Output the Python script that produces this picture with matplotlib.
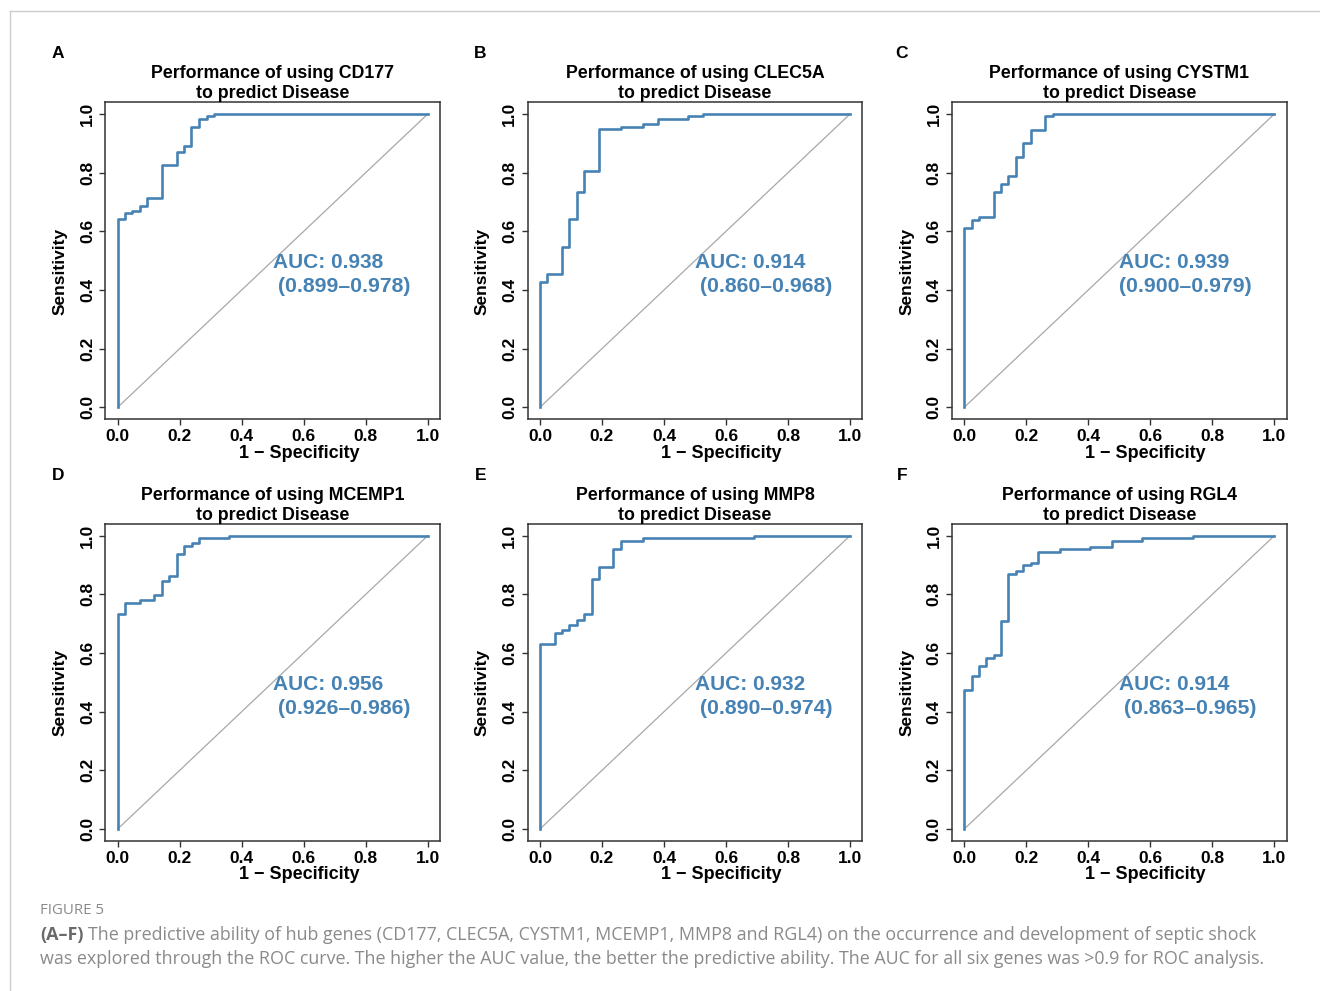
import matplotlib
matplotlib.use("Agg")
import matplotlib.pyplot as plt
from matplotlib.lines import Line2D

# ROC step points (1 - specificity, sensitivity)
genes = ["CD177", "CLEC5A", "CYSTM1", "MCEMP1", "MMP8", "RGL4"]
panel_tags = ["A", "B", "C", "D", "E", "F"]

fpr_cd177 = [0, 0, 0.024, 0.047, 0.071, 0.096, 0.143, 0.192, 0.214, 0.238, 0.261, 0.287, 0.311, 1.0]
tpr_cd177 = [0, 0.641, 0.661, 0.668, 0.688, 0.715, 0.826, 0.872, 0.891, 0.955, 0.983, 0.992, 1.0, 1.0]

fpr_clec5a = [0, 0, 0.022, 0.071, 0.095, 0.118, 0.142, 0.190, 0.261, 0.333, 0.381, 0.476, 0.525, 1.0]
tpr_clec5a = [0, 0.426, 0.455, 0.548, 0.641, 0.733, 0.806, 0.948, 0.956, 0.965, 0.983, 0.992, 1.0, 1.0]

fpr_cystm1 = [0, 0, 0.024, 0.047, 0.096, 0.118, 0.142, 0.166, 0.190, 0.215, 0.260, 0.285, 1.0]
tpr_cystm1 = [0, 0.613, 0.640, 0.650, 0.733, 0.761, 0.790, 0.853, 0.900, 0.947, 0.992, 1.0, 1.0]

fpr_mcemp1 = [0, 0, 0.024, 0.072, 0.118, 0.144, 0.167, 0.192, 0.214, 0.239, 0.262, 0.359, 1.0]
tpr_mcemp1 = [0, 0.733, 0.770, 0.780, 0.798, 0.844, 0.863, 0.936, 0.965, 0.975, 0.993, 1.0, 1.0]

fpr_mmp8 = [0, 0, 0.048, 0.072, 0.095, 0.118, 0.142, 0.167, 0.190, 0.237, 0.261, 0.333, 0.667, 0.691, 1.0]
tpr_mmp8 = [0, 0.631, 0.668, 0.677, 0.695, 0.713, 0.733, 0.854, 0.892, 0.955, 0.983, 0.991, 0.991, 1.0, 1.0]

fpr_rgl4 = [0, 0, 0.024, 0.047, 0.071, 0.096, 0.118, 0.142, 0.167, 0.190, 0.215, 0.239, 0.309, 0.405, 0.475, 0.572, 0.739, 1.0]
tpr_rgl4 = [0, 0.474, 0.520, 0.557, 0.584, 0.594, 0.708, 0.870, 0.881, 0.899, 0.908, 0.945, 0.955, 0.963, 0.982, 0.991, 1.0, 1.0]

fprs = [fpr_cd177, fpr_clec5a, fpr_cystm1, fpr_mcemp1, fpr_mmp8, fpr_rgl4]
tprs = [tpr_cd177, tpr_clec5a, tpr_cystm1, tpr_mcemp1, tpr_mmp8, tpr_rgl4]

auc = ["0.938", "0.914", "0.939", "0.956", "0.932", "0.914"]
ci = ["0.899–0.978", "0.860–0.968", "0.900–0.979", "0.926–0.986", "0.890–0.974", "0.863–0.965"]
ci_shift = [0.016, 0.016, 0.0, 0.016, 0.016, 0.016]

ticks = [0.0, 0.2, 0.4, 0.6, 0.8, 1.0]
tick_labels = ["0.0", "0.2", "0.4", "0.6", "0.8", "1.0"]

W, H = 1320, 991
fig = plt.figure(figsize=(W / 100, H / 100), dpi=100)
plt.rcParams["font.family"] = ["Liberation Sans", "DejaVu Sans"]

blue = "#4682B4"
lefts = [105.3, 527.6, 951.9]
tops = [102.3, 524.0]
tag_off = [47, 47, 50]
aw, ah = 334.8, 316.7

for i, g in enumerate(genes):
    r, c = divmod(i, 3)
    x0, y0 = lefts[c], tops[r]
    ax = fig.add_axes([x0 / W, 1 - (y0 + ah) / H, aw / W, ah / H])
    ax.plot([0, 1], [0, 1], color="#a8a8a8", lw=0.9)
    ax.plot(fprs[i], tprs[i], drawstyle="steps-post", color=blue, lw=1.9)
    ax.set_xlim(-0.04, 1.04)
    ax.set_ylim(-0.04, 1.04)
    ax.set_xticks(ticks)
    ax.set_yticks(ticks)
    ax.set_xticklabels(tick_labels, fontsize=12.5, fontweight="bold")
    ax.set_yticklabels(tick_labels, fontsize=12.5, fontweight="bold", rotation=90, va="center")
    ax.tick_params(length=4.5, width=1.0, color="#333333", pad=3)
    for s in ax.spines.values():
        s.set_color("#333333")
        s.set_linewidth(1.1)
    ax.set_xlabel("1 − Specificity", fontsize=13, fontweight="bold")
    ax.xaxis.set_label_coords(0.579, -(453 - 419) / ah)
    ax.xaxis.label.set_va("center")
    ax.set_ylabel("Sensitivity", fontsize=12.5, fontweight="bold")
    ax.yaxis.set_label_coords(-45.3 / aw, 0.467)
    ax.yaxis.label.set_va("center")
    ax.set_title("Performance of using " + g + "\nto predict Disease",
                 fontsize=12.8, fontweight="bold", linespacing=1.25, pad=1)
    ax.text(0.5, 0.494, "AUC: " + auc[i], color=blue, fontsize=15,
            fontweight="bold", ha="left", va="center")
    ax.text(0.5 + ci_shift[i], 0.411, "(" + ci[i] + ")", color=blue, fontsize=15.3,
            fontweight="bold", ha="left", va="center")
    fig.text((x0 - tag_off[c]) / W, 1 - (y0 - 49) / H, panel_tags[i], fontsize=12.5,
             fontweight="bold", ha="center", va="center")

# page frame lines
fig.add_artist(Line2D([10 / W, 1], [1 - 11 / H, 1 - 11 / H], color="#cccccc", lw=1))
fig.add_artist(Line2D([10 / W, 10 / W], [0, 1 - 11 / H], color="#cccccc", lw=1))

# caption
cap_font = ["Open Sans", "DejaVu Sans"]
fig.text(40 / W, 1 - 911 / H, "FIGURE 5", fontsize=10.8, color="#8a8a8a",
         family=cap_font, va="center")
tb = fig.text(40 / W, 1 - 935 / H, "(A–F)", fontsize=12.9, color="#6a6a6a",
              family=cap_font, fontweight="bold", va="center")
fig.canvas.draw()
bb = tb.get_window_extent()
fig.text((bb.x1 + 4) / W, 1 - 935 / H,
         "The predictive ability of hub genes (CD177, CLEC5A, CYSTM1, MCEMP1, MMP8 and RGL4) "
         "on the occurrence and development of septic shock",
         fontsize=12.9, color="#8a8a8a", family=cap_font, va="center")
fig.text(40 / W, 1 - 959 / H,
         "was explored through the ROC curve. The higher the AUC value, the better the predictive "
         "ability. The AUC for all six genes was >0.9 for ROC analysis.",
         fontsize=12.9, color="#8a8a8a", family=cap_font, va="center")

fig.savefig("out.png", dpi=100)
